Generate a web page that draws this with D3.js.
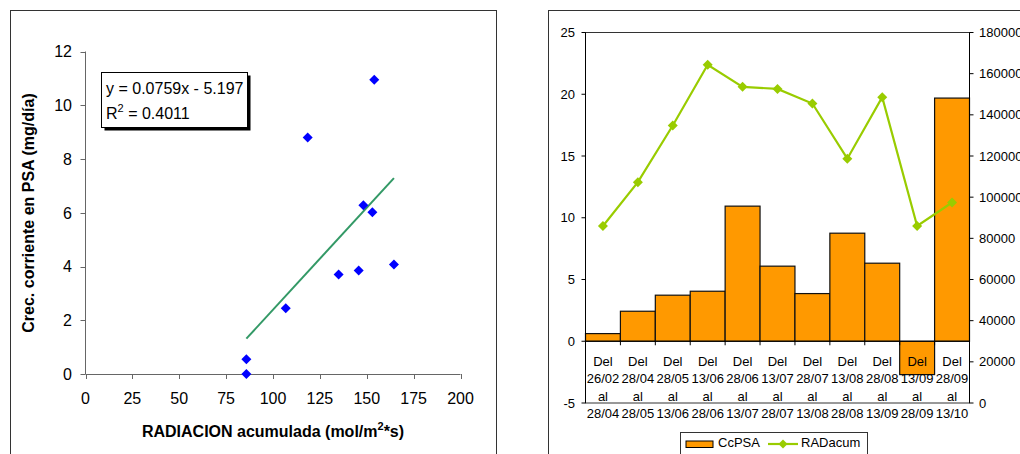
<!DOCTYPE html>
<html>
<head>
<meta charset="utf-8">
<script src="https://cdn.jsdelivr.net/npm/d3@7"></script>
<style>
  html, body { margin: 0; padding: 0; background: #fff; }
  svg { display: block; font-family: "Liberation Sans", Arial, sans-serif; }
</style>
</head>
<body>
<svg id="chart" width="1020" height="454"></svg>
<script>
// Scatter: accumulated radiation vs. current growth in PSA
const scatterRadiation = [85.8, 85.8, 106.8, 118.5, 135.0, 145.7, 148.2, 153.0, 154.0, 164.5];
const scatterGrowth    = [0.55, 0.0, 2.45, 8.8, 3.7, 3.85, 6.28, 6.02, 10.95, 4.07];
const trendSlope = 0.0759;
const trendIntercept = -5.197;
const trendR2 = 0.4011;
const scatterXTicks = [0, 25, 50, 75, 100, 125, 150, 175, 200];
const scatterYTicks = [0, 2, 4, 6, 8, 10, 12];

// Combo chart: growth per period (bars) and accumulated radiation (line)
const periodFrom = ["26/02", "28/04", "28/05", "13/06", "28/06", "13/07", "28/07", "13/08", "28/08", "13/09", "28/09"];
const periodTo   = ["28/04", "28/05", "13/06", "28/06", "13/07", "28/07", "13/08", "28/08", "13/09", "28/09", "13/10"];
const ccPSA      = [0.62, 2.43, 3.73, 4.05, 10.94, 6.08, 3.86, 8.75, 6.32, -2.7, 19.69];
const radAcum    = [86000, 107300, 134800, 164300, 153600, 152600, 145500, 118700, 148600, 86000, 97400];
const leftTicks  = [-5, 0, 5, 10, 15, 20, 25];
const rightTicks = [0, 20000, 40000, 60000, 80000, 100000, 120000, 140000, 160000, 180000];

const svg = d3.select("#chart");

// ---------- Panel frames ----------
svg.append("rect").attr("x", 10.5).attr("y", 10.5).attr("width", 486).attr("height", 460)
  .attr("fill", "#fff").attr("stroke", "#333").attr("stroke-width", 1);
svg.append("rect").attr("x", 548.5).attr("y", 10.5).attr("width", 500).attr("height", 460)
  .attr("fill", "#fff").attr("stroke", "#333").attr("stroke-width", 1);

// ---------- Scatter panel ----------
const sx = d3.scaleLinear().domain([0, 200]).range([85.5, 460.5]);
const sy = d3.scaleLinear().domain([0, 12]).range([374, 51.5]);
const axisCol = "#666";

const gS = svg.append("g");

// y axis
gS.append("line").attr("x1", sx(0)).attr("x2", sx(0)).attr("y1", sy(0)).attr("y2", sy(12))
  .attr("stroke", axisCol);
gS.selectAll(".syt").data(scatterYTicks).join("line")
  .attr("x1", sx(0) - 5).attr("x2", sx(0)).attr("y1", d => Math.round(sy(d)) + 0.5).attr("y2", d => Math.round(sy(d)) + 0.5)
  .attr("stroke", axisCol);
gS.selectAll(".syl").data(scatterYTicks).join("text")
  .attr("x", 72).attr("y", d => sy(d) + 5.8).attr("text-anchor", "end")
  .attr("font-size", 16).attr("fill", "#000").text(d => d);

// x axis
gS.append("line").attr("x1", sx(0)).attr("x2", sx(200)).attr("y1", Math.round(sy(0)) + 0.5).attr("y2", Math.round(sy(0)) + 0.5)
  .attr("stroke", axisCol);
gS.selectAll(".sxt").data(scatterXTicks).join("line")
  .attr("x1", d => Math.round(sx(d)) + 0.5).attr("x2", d => Math.round(sx(d)) + 0.5)
  .attr("y1", sy(0)).attr("y2", sy(0) + 5)
  .attr("stroke", axisCol);
gS.selectAll(".sxl").data(scatterXTicks).join("text")
  .attr("x", d => sx(d)).attr("y", 404).attr("text-anchor", "middle")
  .attr("font-size", 16).attr("fill", "#000").text(d => d);

// axis titles
const xTitle = gS.append("text").attr("x", 273).attr("y", 437).attr("text-anchor", "middle")
  .attr("font-size", 16).attr("font-weight", "bold").attr("fill", "#000");
xTitle.append("tspan").text("RADIACION acumulada (mol/m");
xTitle.append("tspan").attr("font-size", 11).attr("dy", -7).text("2");
xTitle.append("tspan").attr("dy", 7).text("*s)");

gS.append("text").attr("transform", "translate(33.5,213) rotate(-90)")
  .attr("text-anchor", "middle").attr("font-size", 16).attr("font-weight", "bold")
  .attr("fill", "#000").text("Crec. corriente en PSA (mg/día)");

// trend line over the observed radiation range
const xExt = d3.extent(scatterRadiation);
gS.append("line")
  .attr("x1", sx(xExt[0])).attr("y1", sy(trendSlope * xExt[0] + trendIntercept))
  .attr("x2", sx(xExt[1])).attr("y2", sy(trendSlope * xExt[1] + trendIntercept))
  .attr("stroke", "#339966").attr("stroke-width", 2);

// diamond markers
const diamond = d3.symbol().type(d3.symbolDiamond2 || d3.symbolSquare).size(50);
gS.selectAll(".pt").data(scatterRadiation.map((r, i) => [r, scatterGrowth[i]])).join("path")
  .attr("d", d3.symbol().type(d3.symbolSquare).size(50))
  .attr("transform", d => `translate(${sx(d[0])},${sy(d[1])}) rotate(45)`)
  .attr("fill", "#0000FF");

// equation box with drop shadow
gS.append("rect").attr("x", 104.5).attr("y", 75.5).attr("width", 146).attr("height", 55).attr("fill", "#000");
gS.append("rect").attr("x", 101.5).attr("y", 72.5).attr("width", 146).attr("height", 55)
  .attr("fill", "#fff").attr("stroke", "#000").attr("stroke-width", 1);
gS.append("text").attr("x", 106).attr("y", 93.5).attr("font-size", 16).attr("fill", "#000")
  .text(`y = ${trendSlope}x - ${Math.abs(trendIntercept)}`);
const r2 = gS.append("text").attr("x", 106).attr("y", 118.5).attr("font-size", 16).attr("fill", "#000");
r2.append("tspan").text("R");
r2.append("tspan").attr("font-size", 11).attr("dy", -7).text("2");
r2.append("tspan").attr("dy", 7).text(` = ${trendR2}`);

// ---------- Combo panel ----------
const L = 585.5, R = 969.5, T = 32.5, B = 403;
const cx = d3.scaleBand().domain(d3.range(periodFrom.length)).range([L, R]).padding(0);
const yl = d3.scaleLinear().domain([-5, 25]).range([B, T]);
const yr = d3.scaleLinear().domain([0, 180000]).range([B, T]);

const gC = svg.append("g");

// plot area border
gC.append("rect").attr("x", L).attr("y", T).attr("width", R - L).attr("height", B - T)
  .attr("fill", "#fff").attr("stroke", "#333").attr("stroke-width", 1);

// bars
gC.selectAll(".bar").data(ccPSA).join("rect")
  .attr("x", (d, i) => cx(i))
  .attr("width", cx.bandwidth())
  .attr("y", d => yl(Math.max(0, d)))
  .attr("height", d => Math.abs(yl(d) - yl(0)))
  .attr("fill", "#FF9900").attr("stroke", "#111").attr("stroke-width", 1.2);

// zero line
gC.append("line").attr("x1", L).attr("x2", R).attr("y1", yl(0)).attr("y2", yl(0))
  .attr("stroke", "#000").attr("stroke-width", 1.2);

// category boundary ticks
gC.selectAll(".ct").data(d3.range(periodFrom.length + 1)).join("line")
  .attr("x1", i => L + i * cx.bandwidth()).attr("x2", i => L + i * cx.bandwidth())
  .attr("y1", yl(0)).attr("y2", yl(0) + 4)
  .attr("stroke", "#000");

// left axis
gC.append("line").attr("x1", L).attr("x2", L).attr("y1", T).attr("y2", B).attr("stroke", "#000");
gC.selectAll(".lt").data(leftTicks).join("line")
  .attr("x1", L - 4).attr("x2", L).attr("y1", d => yl(d)).attr("y2", d => yl(d)).attr("stroke", "#000");
gC.selectAll(".ll").data(leftTicks).join("text")
  .attr("x", 575).attr("y", d => yl(d) + 4.6).attr("text-anchor", "end")
  .attr("font-size", 13).attr("fill", "#000").text(d => d);

// right axis
gC.append("line").attr("x1", R).attr("x2", R).attr("y1", T).attr("y2", B).attr("stroke", "#000");
gC.selectAll(".rt").data(rightTicks).join("line")
  .attr("x1", R).attr("x2", R + 4).attr("y1", d => yr(d)).attr("y2", d => yr(d)).attr("stroke", "#000");
gC.selectAll(".rl").data(rightTicks).join("text")
  .attr("x", 979).attr("y", d => yr(d) + 4.6).attr("text-anchor", "start")
  .attr("font-size", 13).attr("fill", "#000").text(d => d);

// radiation line with diamond markers
const line = d3.line().x((d, i) => cx(i) + cx.bandwidth() / 2).y(d => yr(d));
gC.append("path").datum(radAcum).attr("d", line)
  .attr("fill", "none").attr("stroke", "#99CC00").attr("stroke-width", 2.2);
gC.selectAll(".rm").data(radAcum).join("path")
  .attr("d", d3.symbol().type(d3.symbolSquare).size(50))
  .attr("transform", (d, i) => `translate(${cx(i) + cx.bandwidth() / 2},${yr(d)}) rotate(45)`)
  .attr("fill", "#99CC00");

// category labels (four lines each)
const baselines = [365.7, 383.2, 400.5, 418];
periodFrom.forEach((f, i) => {
  const lines = ["Del", f, "al", periodTo[i]];
  lines.forEach((t, k) => {
    gC.append("text").attr("x", cx(i) + cx.bandwidth() / 2).attr("y", baselines[k])
      .attr("text-anchor", "middle").attr("font-size", 13).attr("fill", "#000").text(t);
  });
});

// legend
const lg = svg.append("g");
lg.append("rect").attr("x", 680.5).attr("y", 432.5).attr("width", 187).attr("height", 40)
  .attr("fill", "#fff").attr("stroke", "#333");
lg.append("rect").attr("x", 686).attr("y", 441).attr("width", 27).attr("height", 6.5)
  .attr("fill", "#FF9900").attr("stroke", "#000");
lg.append("text").attr("x", 718).attr("y", 447).attr("font-size", 13).attr("fill", "#000").text("CcPSA");
lg.append("line").attr("x1", 768).attr("x2", 798).attr("y1", 444).attr("y2", 444)
  .attr("stroke", "#99CC00").attr("stroke-width", 2.2);
lg.append("path").attr("d", d3.symbol().type(d3.symbolSquare).size(40))
  .attr("transform", "translate(783,444) rotate(45)").attr("fill", "#99CC00");
lg.append("text").attr("x", 801).attr("y", 447).attr("font-size", 13).attr("fill", "#000").text("RADacum");
</script>
</body>
</html>
